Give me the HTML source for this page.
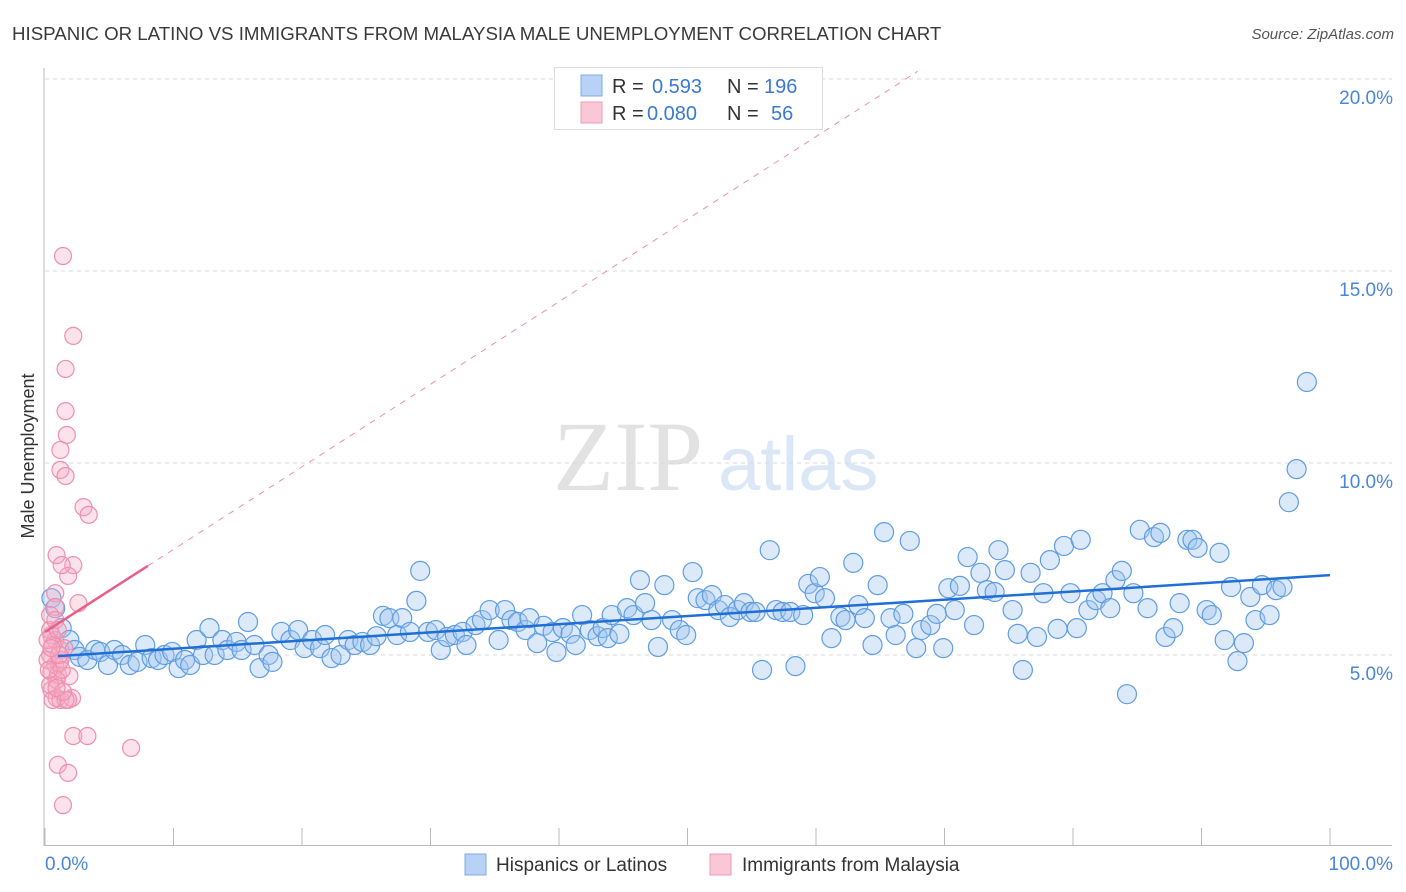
<!DOCTYPE html>
<html><head><meta charset="utf-8">
<style>
body{margin:0;background:#fff;width:1406px;height:892px;overflow:hidden;font-family:"Liberation Sans",sans-serif}
svg{display:block}
</style></head>
<body>
<svg id="chart" width="1406" height="892" xmlns="http://www.w3.org/2000/svg">
<text x="12" y="40" font-size="18.7" fill="#3a3a3a">HISPANIC OR LATINO VS IMMIGRANTS FROM MALAYSIA MALE UNEMPLOYMENT CORRELATION CHART</text>
<text x="1394" y="39" font-size="15" fill="#555" font-style="italic" text-anchor="end">Source: ZipAtlas.com</text>
<g>
<text x="553" y="490" font-family="Liberation Serif,serif" font-size="100" fill="#e2e2e2">ZIP</text>
<text x="718" y="490" font-family="Liberation Sans,sans-serif" font-size="76" fill="#dbe7f7">atlas</text>
</g>
<g id="grid"></g>
<g id="axes"></g>
<g id="pts"></g>
<g id="trend"></g>
<text x="34" y="456" font-size="18" fill="#333" text-anchor="middle" transform="rotate(-90 34 456)">Male Unemployment</text>
<g>
<rect x="554.5" y="67.5" width="268" height="62" fill="#fff" stroke="#ddd"/>
<rect x="581" y="75" width="21" height="21" fill="#b7d2f5" stroke="#7fabe6"/>
<rect x="581" y="102" width="21" height="21" fill="#f9c7d6" stroke="#f09ab6"/>
<text x="612" y="93" font-size="20" fill="#333">R = </text><text x="652" y="93" font-size="20" fill="#3b78d6">0.593</text>
<text x="727" y="93" font-size="20" fill="#333">N = </text><text x="764" y="93" font-size="20" fill="#3b78d6">196</text>
<text x="612" y="120" font-size="20" fill="#333">R = </text><text x="647" y="120" font-size="20" fill="#3b78d6">0.080</text>
<text x="727" y="120" font-size="20" fill="#333">N = </text><text x="771" y="120" font-size="20" fill="#3b78d6">56</text>
</g>
<g>
<g><rect x="465" y="854" width="21" height="21" fill="#b7d2f5" stroke="#7fabe6"/>
<text x="496" y="871" font-size="19" fill="#333">Hispanics or Latinos</text></g>
<g><rect x="710" y="854" width="21" height="21" fill="#f9c7d6" stroke="#f09ab6"/>
<text x="742" y="871" font-size="19" fill="#333">Immigrants from Malaysia</text></g>
</g>
</svg>
<script>
const yTicks=[5,10,15,20];
const yTickLabels=["5.0%","10.0%","15.0%","20.0%"];
const xTickVals=[0,10,20,30,40,50,60,70,80,90,100];
const xEndLabels=["0.0%","100.0%"];
const blueX=[0.5,0.8,1.3,1.9,2.3,2.7,3.3,3.9,4.3,4.9,5.4,6.0,6.6,7.2,7.8,8.3,8.8,9.3,9.9,10.4,10.9,11.3,11.8,12.3,12.8,13.2,13.8,14.2,14.9,15.3,15.8,16.3,16.7,17.4,17.7,18.4,19.1,19.7,20.2,20.8,21.4,21.8,22.3,23.0,23.6,24.1,24.7,25.3,25.8,26.3,26.8,27.4,27.8,28.4,28.9,29.2,29.8,30.4,30.8,31.3,31.9,32.5,32.8,33.5,34.0,34.6,35.3,35.8,36.3,36.8,37.4,37.7,38.3,38.8,39.5,39.8,40.3,40.9,41.3,41.8,42.4,43.0,43.4,43.8,44.1,44.7,45.3,45.8,46.3,46.7,47.2,47.7,48.2,48.8,49.4,49.9,50.4,50.8,51.4,51.9,52.4,52.9,53.3,53.9,54.4,54.9,55.3,55.8,56.4,56.9,57.4,58.0,58.4,59.0,59.4,59.9,60.3,60.7,61.2,61.9,62.3,62.9,63.3,63.8,64.4,64.8,65.3,65.8,66.2,66.8,67.3,67.8,68.2,68.9,69.4,69.9,70.3,70.8,71.2,71.8,72.3,72.8,73.3,73.9,74.2,74.7,75.3,75.7,76.1,76.7,77.2,77.7,78.2,78.8,79.3,79.8,80.3,80.6,81.2,81.8,82.3,82.9,83.3,83.8,84.2,84.7,85.2,85.8,86.3,86.8,87.2,87.8,88.3,88.9,89.3,89.7,90.4,90.8,91.4,91.8,92.3,92.8,93.3,93.8,94.2,94.7,95.3,95.8,96.3,96.8,97.4,98.2];
const blueY=[6.48,6.22,5.70,5.39,5.13,4.95,4.87,5.13,5.08,4.74,5.13,5.0,4.74,4.82,5.26,4.92,4.87,5.0,5.08,4.66,4.87,4.74,5.39,5.0,5.70,5.0,5.39,5.13,5.34,5.13,5.86,5.26,4.66,5.0,4.82,5.60,5.39,5.65,5.18,5.39,5.18,5.52,4.92,5.0,5.39,5.26,5.34,5.26,5.49,6.02,5.96,5.52,5.96,5.60,6.41,7.19,5.60,5.65,5.13,5.47,5.52,5.60,5.26,5.78,5.91,6.17,5.39,6.17,5.91,5.86,5.65,5.96,5.31,5.76,5.60,5.08,5.70,5.55,5.26,6.04,5.65,5.49,5.70,5.44,6.04,5.55,6.22,6.04,6.95,6.35,5.91,5.21,6.82,5.91,5.65,5.52,7.16,6.48,6.43,6.56,6.17,6.30,5.99,6.17,6.35,6.12,6.12,4.61,7.73,6.17,6.12,6.12,4.71,6.04,6.85,6.61,7.03,6.48,5.44,5.99,5.91,7.40,6.30,5.96,5.26,6.82,8.20,5.96,5.52,6.07,7.97,5.18,5.65,5.78,6.07,5.18,6.74,6.17,6.80,7.55,5.78,7.14,6.69,6.64,7.73,7.21,6.17,5.55,4.61,7.14,5.47,6.61,7.47,5.68,7.84,6.61,5.70,8.0,6.17,6.43,6.61,6.22,6.95,7.19,3.98,6.61,8.26,6.22,8.07,8.18,5.47,5.70,6.35,8.0,8.0,7.79,6.17,6.04,7.66,5.39,6.77,4.84,5.31,6.51,5.91,6.82,6.04,6.69,6.77,8.98,9.84,12.11];
const pinkX=[1.4,2.2,1.6,1.6,1.7,1.2,1.2,1.6,3.0,3.4,0.9,2.2,1.8,1.3,2.6,0.8,0.8,0.4,0.5,0.8,1.2,0.4,0.8,0.5,1.0,1.9,0.5,0.9,1.2,2.1,1.8,2.2,1.0,1.8,6.7,3.3,1.4,0.4,0.6,0.2,1.2,0.9,0.4,1.5,0.2,0.8,1.0,1.1,1.3,0.3,1.6,0.6,1.4,1.1,0.5,0.9];
const pinkY=[15.39,13.31,12.45,11.35,10.73,10.34,9.82,9.66,8.85,8.65,7.60,7.34,7.06,7.34,6.35,6.61,6.25,6.04,5.52,5.39,5.13,5.0,4.74,4.56,4.48,4.45,4.09,3.88,3.83,3.88,3.83,2.89,2.14,1.93,2.58,2.89,1.09,5.65,5.26,4.87,4.87,4.35,4.22,5.18,5.39,5.91,5.65,4.8,4.61,4.61,3.83,3.83,4.04,5.0,5.18,4.14];
const blueTrend=[4.95,7.08];   // y at x=0, x=100
const pinkTrend=[5.60,0.215];  // intercept, slope

const NS="http://www.w3.org/2000/svg";
const X=v=>45+v*12.85, Y=v=>847-v*38.4;
function mk(tag,attrs,parent){const e=document.createElementNS(NS,tag);for(const k in attrs)e.setAttribute(k,attrs[k]);parent.appendChild(e);return e;}
const grid=document.getElementById('grid'),axes=document.getElementById('axes'),pts=document.getElementById('pts'),trend=document.getElementById('trend');
yTicks.forEach((t,i)=>{
  const l=mk('line',{x1:45,x2:1392,y1:Y(t),y2:Y(t),stroke:'#d8d8d8','stroke-dasharray':'4,4'},grid);
  
  
  const tx=mk('text',{x:1393,y:Y(t)+25,'font-size':19,fill:'#4a86d8','text-anchor':'end'},axes);
  tx.textContent=yTickLabels[i];
  
  
});
const ax=mk('line',{x1:44,x2:44,y1:68,y2:846,stroke:'#bbb'},axes);


const bx=mk('line',{x1:44,x2:1392,y1:845.5,y2:845.5,stroke:'#bbb'},axes);


xTickVals.forEach(t=>{
  const l=mk('line',{x1:X(t),x2:X(t),y1:828,y2:846,stroke:'#bbb'},axes);
  
  
});
const xl0=mk('text',{x:45,y:870,'font-size':19,fill:'#4a86d8'},axes);xl0.textContent=xEndLabels[0];


const xl1=mk('text',{x:1393,y:870,'font-size':19,fill:'#4a86d8','text-anchor':'end'},axes);xl1.textContent=xEndLabels[1];


blueX.forEach((v,i)=>{
  const c=mk('circle',{cx:X(v),cy:Y(blueY[i]),r:9.5,fill:'rgba(160,196,240,0.38)',stroke:'#5f9de2','stroke-width':1.2},pts);
  
  
});
pinkX.forEach((v,i)=>{
  const c=mk('circle',{cx:X(v),cy:Y(pinkY[i]),r:8.5,fill:'rgba(244,170,195,0.34)',stroke:'#ee8fae','stroke-width':1.2},pts);
  
  
});
const bt=mk('line',{x1:X(1),y1:Y(blueTrend[0]+(blueTrend[1]-blueTrend[0])*0.01),x2:X(100),y2:Y(blueTrend[1]),stroke:'#1f6fd6','stroke-width':2.5},trend);


const xEnd=(20.2-pinkTrend[0])/pinkTrend[1];
const pd=mk('line',{x1:X(8),y1:Y(pinkTrend[0]+pinkTrend[1]*8),x2:X(xEnd),y2:Y(20.2),stroke:'#ec8fae','stroke-width':1,'stroke-dasharray':'6,6'},trend);


const pt=mk('line',{x1:X(0),y1:Y(pinkTrend[0]),x2:X(8),y2:Y(pinkTrend[0]+pinkTrend[1]*8),stroke:'#e8608a','stroke-width':2.5},trend);


</script>
</body></html>
